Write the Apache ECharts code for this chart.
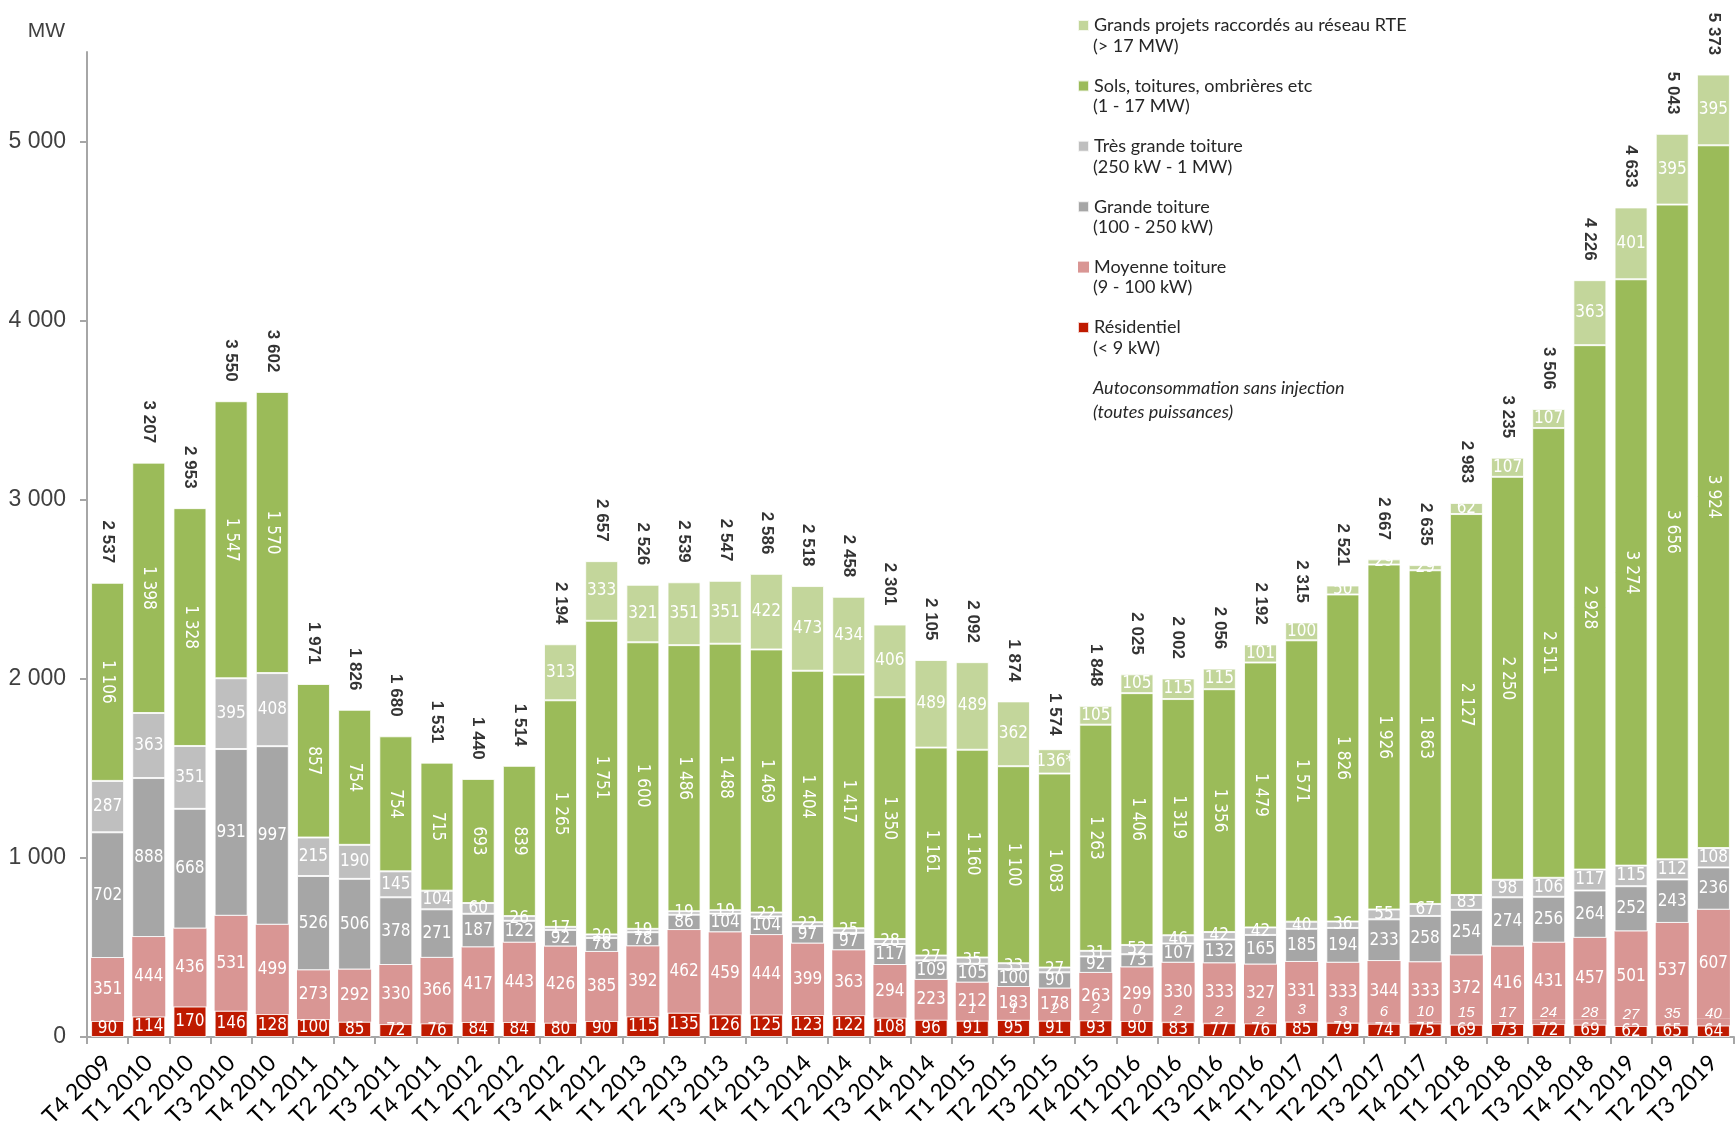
<!DOCTYPE html>
<html>
<head>
<meta charset="utf-8">
<title>Puissance photovoltaïque raccordée par trimestre</title>
<script src="https://cdn.jsdelivr.net/npm/echarts@6/dist/echarts.min.js"></script>
<style>
  html, body { margin: 0; padding: 0; background: #fff; }
  #chart { width: 1736px; height: 1121px; }
</style>
</head>
<body>
<div id="chart"></div>
<script>
// trimestres
const categories = [
  'T4 2009',
  'T1 2010', 'T2 2010', 'T3 2010', 'T4 2010',
  'T1 2011', 'T2 2011', 'T3 2011', 'T4 2011',
  'T1 2012', 'T2 2012', 'T3 2012', 'T4 2012',
  'T1 2013', 'T2 2013', 'T3 2013', 'T4 2013',
  'T1 2014', 'T2 2014', 'T3 2014', 'T4 2014',
  'T1 2015', 'T2 2015', 'T3 2015', 'T4 2015',
  'T1 2016', 'T2 2016', 'T3 2016', 'T4 2016',
  'T1 2017', 'T2 2017', 'T3 2017', 'T4 2017',
  'T1 2018', 'T2 2018', 'T3 2018', 'T4 2018',
  'T1 2019', 'T2 2019', 'T3 2019'
];

// MW par segment
const residentiel = [90, 114, 170, 146, 128, 100, 85, 72, 76, 84, 84, 80, 90, 115, 135, 126, 125, 123, 122, 108,
  96, 91, 95, 91, 93, 90, 83, 77, 76, 85, 79, 74, 75, 69, 73, 72, 69, 62, 65, 64];
const autoconso = [null, null, null, null, null, null, null, null, null, null, null, null, null, null, null, null,
  null, null, null, null, null, 1, 1, 2, 2, 0, 2, 2, 2, 3, 3, 6, 10, 15, 17, 24, 28, 27, 35, 40];
const moyenne = [351, 444, 436, 531, 499, 273, 292, 330, 366, 417, 443, 426, 385, 392, 462, 459, 444, 399, 363, 294,
  223, 212, 183, 178, 263, 299, 330, 333, 327, 331, 333, 344, 333, 372, 416, 431, 457, 501, 537, 607];
const grande = [702, 888, 668, 931, 997, 526, 506, 378, 271, 187, 122, 92, 78, 78, 86, 104, 104, 97, 97, 117,
  109, 105, 100, 90, 92, 73, 107, 132, 165, 185, 194, 233, 258, 254, 274, 256, 264, 252, 243, 236];
const tresGrande = [287, 363, 351, 395, 408, 215, 190, 145, 104, 60, 26, 17, 20, 19, 19, 19, 22, 22, 25, 28,
  27, 35, 33, 27, 31, 52, 46, 42, 42, 40, 36, 55, 67, 83, 98, 106, 117, 115, 112, 108];
const sols = [1106, 1398, 1328, 1547, 1570, 857, 754, 754, 715, 693, 839, 1265, 1751, 1600, 1486, 1488, 1469, 1404, 1417, 1350,
  1161, 1160, 1100, 1083, 1263, 1406, 1319, 1356, 1479, 1571, 1826, 1926, 1863, 2127, 2250, 2511, 2928, 3274, 3656, 3924];
const grandsProjets = [null, null, null, null, null, null, null, null, null, null, null, 313, 333, 321, 351, 351, 422, 473, 434, 406,
  489, 489, 362, 136, 105, 105, 115, 115, 101, 100, 50, 29, 29, 62, 107, 107, 363, 401, 395, 395];
const totals = [2537, 3207, 2953, 3550, 3602, 1971, 1826, 1680, 1531, 1440, 1514, 2194, 2657, 2526, 2539, 2547, 2586, 2518, 2458, 2301,
  2105, 2092, 1874, 1574, 1848, 2025, 2002, 2056, 2192, 2315, 2521, 2667, 2635, 2983, 3235, 3506, 4226, 4633, 5043, 5373];

const yTicks = [0, 1000, 2000, 3000, 4000, 5000];

const legendNames = [
  'Grands projets raccordés au réseau RTE',
  'Sols, toitures, ombrières etc',
  'Très grande toiture',
  'Grande toiture',
  'Moyenne toiture',
  'Résidentiel'
];
const legendSub = ['(> 17 MW)', '(1 - 17 MW)', '(250 kW - 1 MW)', '(100 - 250 kW)', '(9 - 100 kW)', '(< 9 kW)'];

// séparateur de milliers "2 537"
function fmt(v) {
  if (v === null || v === undefined) return '';
  return String(v).replace(/\B(?=(\d{3})+(?!\d))/g, ' ');
}

const segFont = '"Liberation Sans Narrow", "DejaVu Sans Condensed", Roboto, sans-serif';
const textFont = 'Lato, "Open Sans", sans-serif';
const border = { borderColor: 'rgba(255,255,255,0.8)', borderWidth: 1 };

function seg(name, data, color, label, noBorder) {
  return {
    name: name,
    type: 'bar',
    stack: 'pv',
    data: data,
    barWidth: 33,
    itemStyle: Object.assign({ color: color }, noBorder ? { borderWidth: 0 } : border),
    label: Object.assign({
      show: true,
      position: 'inside',
      color: '#fff',
      fontFamily: segFont,
      fontSize: 17,
      formatter: p => fmt(p.value)
    }, label || {}),
    emphasis: { disabled: true }
  };
}

const chart = echarts.init(document.getElementById('chart'));

const subGraphics = legendSub.map((t, i) => ({
  type: 'text',
  left: 1093,
  top: 37 + i * 60.4,
  style: { text: t, font: '18px ' + textFont, fill: '#262626' }
}));
subGraphics.push({
  type: 'text',
  left: 1093,
  top: 376,
  style: {
    text: 'Autoconsommation sans injection\n(toutes puissances)',
    font: 'italic 18px ' + textFont,
    lineHeight: 24,
    fill: '#262626'
  }
});

chart.setOption({
  animation: false,
  backgroundColor: '#fff',
  grid: { left: 87, right: 2, top: 52, bottom: 84, containLabel: false, outerBoundsMode: 'none' },
  legend: {
    data: legendNames,
    orient: 'vertical',
    left: 1077,
    top: 15,
    padding: 0,
    itemWidth: 11,
    itemHeight: 11,
    itemGap: 39.4,
    icon: 'rect',
    selectedMode: false,
    textStyle: { fontFamily: textFont, fontSize: 18, color: '#262626', lineHeight: 21 }
  },
  graphic: subGraphics,
  xAxis: {
    type: 'category',
    data: categories,
    axisLine: { lineStyle: { color: '#A6A6A6', width: 2 } },
    axisTick: { show: true, alignWithLabel: false, length: 7, lineStyle: { color: '#A6A6A6', width: 2 } },
    axisLabel: {
      rotate: 45,
      margin: 22,
      interval: 0,
      color: '#000',
      fontFamily: textFont,
      fontSize: 23
    }
  },
  yAxis: {
    type: 'value',
    min: 0,
    max: 5500,
    interval: 1000,
    name: 'MW',
    nameLocation: 'end',
    nameGap: 10,
    nameTextStyle: { align: 'right', padding: [0, 22, 0, 0], color: '#404040', fontFamily: '"Liberation Sans", Arial, sans-serif', fontSize: 21 },
    splitLine: { show: false },
    axisLine: { show: true, lineStyle: { color: '#A6A6A6', width: 2 } },
    axisTick: { show: true, length: 7, lineStyle: { color: '#A6A6A6', width: 2 }, customValues: yTicks },
    axisLabel: {
      margin: 21,
      color: '#404040',
      fontFamily: '"Liberation Sans", Arial, sans-serif',
      fontSize: 23,
      customValues: yTicks,
      formatter: v => (v % 1000 === 0 ? fmt(v) : '')
    }
  },
  series: [
    seg('Résidentiel', residentiel, '#BF1A00'),
    seg('Autoconsommation sans injection', autoconso, '#D99694', {
      position: 'insideBottom',
      distance: 4,
      fontStyle: 'italic',
      fontSize: 15,
      fontFamily: '"Liberation Sans", Arial, sans-serif'
    }, true),
    seg('Moyenne toiture', moyenne, '#D99694', null, true),
    seg('Grande toiture', grande, '#A6A6A6'),
    seg('Très grande toiture', tresGrande, '#BFBFBF'),
    seg('Sols, toitures, ombrières etc', sols, '#9BBB59', { rotate: -90 }),
    seg('Grands projets raccordés au réseau RTE', grandsProjets, '#C3D69B', {
      formatter: p => (p.value == null ? '' : fmt(p.value) + (p.dataIndex === 23 ? '*' : ''))
    }),
    {
      name: 'Total',
      type: 'scatter',
      data: totals,
      symbolSize: 1,
      itemStyle: { color: 'rgba(0,0,0,0)' },
      silent: true,
      z: 10,
      label: {
        show: true,
        position: 'top',
        distance: 19,
        rotate: -90,
        align: 'right',
        verticalAlign: 'middle',
        color: '#000',
        fontWeight: 'bold',
        fontSize: 17,
        fontFamily: '"Liberation Sans", Arial, sans-serif',
        formatter: p => fmt(p.value)
      }
    }
  ]
});
</script>
</body>
</html>
